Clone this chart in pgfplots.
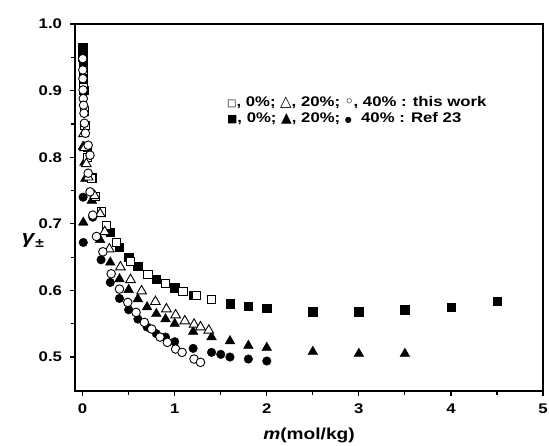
\documentclass[border=0pt]{standalone}
\usepackage{fontspec}
\setmainfont{Liberation Sans}[FakeStretch=1.2]
\newfontfamily\sym{DejaVu Sans}
\usepackage{pgfplots}
\pgfplotsset{compat=1.18}

\begin{document}
\begin{tikzpicture}
\begin{axis}[
    scale only axis, width=468bp, height=367bp,
    xmin=-0.083, xmax=5, ymin=0.449, ymax=1.0,
    xtick={0,1,2,3,4,5}, minor xtick={0.5,1.5,2.5,3.5,4.5},
    ytick={0.5,0.6,0.7,0.8,0.9,1.0}, minor ytick={0.55,0.65,0.75,0.85,0.95},
    xtick pos=bottom, ytick pos=left, tick align=outside,
    major tick length=4.5bp, minor tick length=3.5bp,
    every tick/.style={black, line width=1.2bp},
    axis line style={line width=1.3bp},
    /pgf/number format/assume math mode=true,
    /pgf/number format/fixed, /pgf/number format/precision=1,
    yticklabel style={/pgf/number format/fixed zerofill, xshift=-5bp},
    xticklabel style={yshift=-5bp},
    tick label style={font=\fontsize{14}{16}\selectfont\bfseries},
    xlabel={\textit{m}(mol/kg)},
    ylabel={\textit{γ}\raisebox{-0.45ex}{\fontsize{13}{13}\selectfont ±}},
    xlabel style={font=\fontsize{16}{18}\selectfont\bfseries, at={(axis description cs:0.5,-0.12)}, anchor=center},
    ylabel style={font=\fontsize{19}{21}\selectfont\bfseries, rotate=-90, at={(axis description cs:-0.09,0.41)}, anchor=center},
    clip=false,
]
% Ref 23, 0%
\addplot[only marks, mark=square*, mark size=4.2bp, black] coordinates {
(0.001,0.965) (0.002,0.951) (0.003,0.940) (0.005,0.927) (0.007,0.915) (0.01,0.901)
(0.02,0.869) (0.05,0.816) (0.1,0.769) (0.2,0.718) (0.3,0.687) (0.4,0.665)
(0.5,0.650) (0.6,0.636) (0.8,0.617) (1.0,0.604) (1.2,0.593) (1.6,0.580)
(1.8,0.576) (2.0,0.573) (2.5,0.568) (3.0,0.568) (3.5,0.571) (4.0,0.575) (4.5,0.584)
};
% Ref 23, 20%
\addplot[only marks, mark=triangle*, mark size=5.6bp, black] coordinates {
(0.005,0.816) (0.02,0.792) (0.03,0.768) (0.007,0.702) (0.1,0.735) (0.19,0.676)
(0.3,0.642) (0.4,0.617) (0.5,0.601) (0.6,0.587) (0.7,0.575) (0.8,0.565)
(0.9,0.557) (1.0,0.550) (1.2,0.538) (1.4,0.530) (1.6,0.524) (1.8,0.517)
(2.0,0.514) (2.5,0.508) (3.0,0.505) (3.5,0.505)
};
% Ref 23, 40%
\addplot[only marks, mark=*, mark size=4.3bp, black] coordinates {
(0.005,0.740) (0.007,0.672) (0.11,0.710) (0.20,0.646) (0.30,0.612) (0.40,0.588)
(0.50,0.571) (0.60,0.557) (0.70,0.545) (0.80,0.535) (0.90,0.530) (1.0,0.523)
(1.2,0.513) (1.4,0.507) (1.5,0.504) (1.6,0.500) (1.8,0.497) (2.0,0.494)
};
% this work, 0%
\addplot[only marks, mark=square*, mark size=4.1bp, mark options={draw=black, fill=white, line width=0.9bp}] coordinates {
(0.005,0.930) (0.01,0.905) (0.02,0.870) (0.025,0.848) (0.05,0.800) (0.1,0.768)
(0.14,0.741) (0.2,0.718) (0.26,0.697) (0.37,0.672) (0.52,0.644) (0.71,0.624)
(0.90,0.610) (1.09,0.599) (1.24,0.592) (1.40,0.586)
};
% this work, 20%
\addplot[only marks, mark=triangle*, mark size=5.6bp, mark options={draw=black, fill=white, line width=0.9bp}] coordinates {
(0.01,0.835) (0.02,0.814) (0.04,0.790) (0.06,0.770) (0.13,0.742) (0.19,0.715)
(0.24,0.688) (0.29,0.662) (0.41,0.635) (0.52,0.616) (0.64,0.599) (0.79,0.583)
(0.91,0.572) (1.01,0.563) (1.11,0.554) (1.21,0.549) (1.28,0.545) (1.37,0.540)
};
% this work, 40%
\addplot[only marks, mark=*, mark size=4.3bp, mark options={draw=black, fill=white, line width=0.9bp}] coordinates {
(0.001,0.948) (0.002,0.931) (0.003,0.918) (0.005,0.901) (0.007,0.888) (0.01,0.878)
(0.015,0.866) (0.02,0.851) (0.03,0.836) (0.06,0.818) (0.08,0.803) (0.06,0.776)
(0.08,0.748) (0.11,0.713) (0.15,0.681) (0.22,0.658) (0.31,0.625) (0.40,0.602)
(0.49,0.582) (0.58,0.567) (0.67,0.552) (0.75,0.542) (0.84,0.530) (0.92,0.522)
(1.01,0.512) (1.08,0.507) (1.21,0.497) (1.28,0.492)
};
\node[anchor=west, align=left, inner sep=0pt, font=\fontsize{14}{16}\selectfont\bfseries]
  at (axis cs:1.567,0.870)
  {{\sym\fontsize{10}{10}\selectfont □}, 0\%; {\sym\fontsize{15}{15}\selectfont △}, 20\%; {\sym\fontsize{14}{14}\selectfont ◦}, 40\% : this work\\
   {\sym\fontsize{11}{11}\selectfont ■}, 0\%; {\sym\fontsize{14}{14}\selectfont ▲}, 20\%; {\sym\fontsize{8}{8}\selectfont ●}\ \ 40\% : Ref 23};
\coordinate (bl) at (rel axis cs:0,0);
\coordinate (tr) at (rel axis cs:1,1);
\end{axis}
\pgfresetboundingbox
\path[use as bounding box] ([shift={(-75bp,-55bp)}]bl) rectangle ([shift={(6bp,24bp)}]tr);
\end{tikzpicture}
\end{document}
